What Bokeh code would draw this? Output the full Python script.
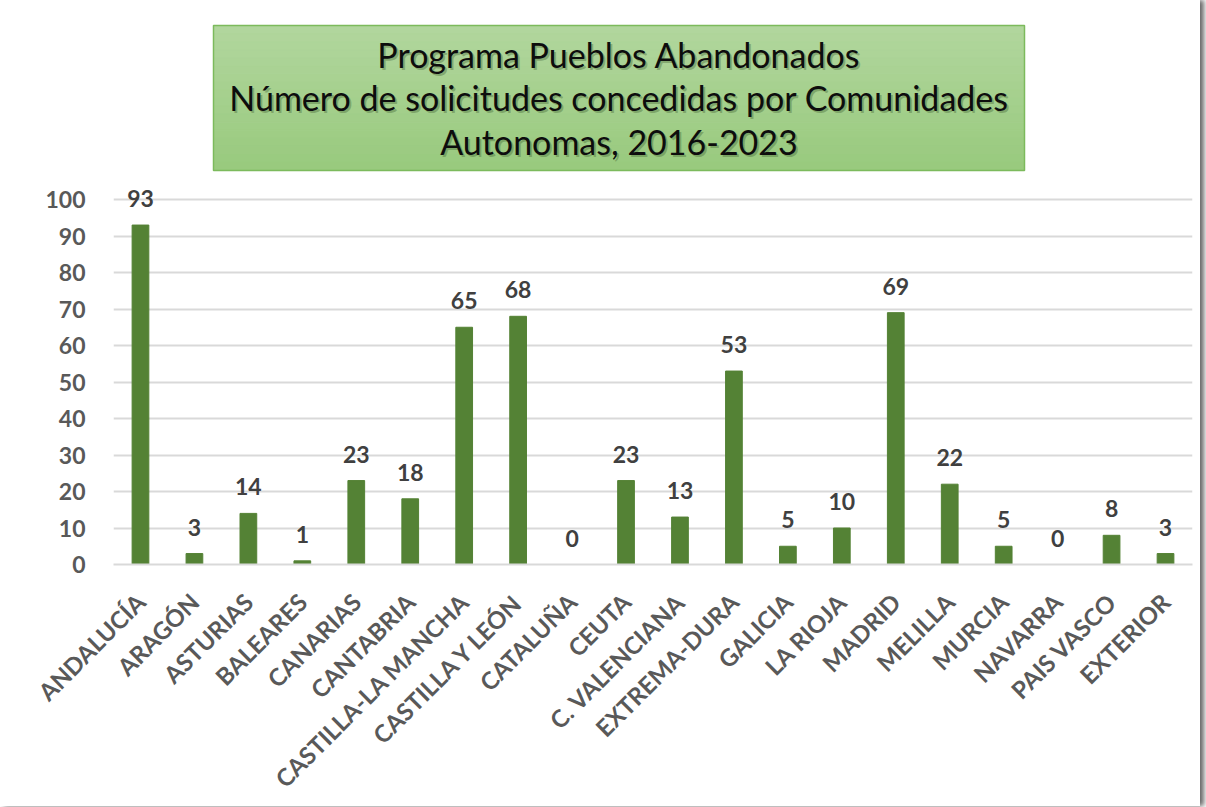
from bokeh.plotting import figure
from bokeh.models import ColumnDataSource, LabelSet, FixedTicker, FactorRange, Range1d
from bokeh.core.properties import value
from bokeh.embed import file_html
from bokeh.resources import INLINE
import math

categories = ["ANDALUCÍA", "ARAGÓN", "ASTURIAS", "BALEARES", "CANARIAS", "CANTABRIA",
              "CASTILLA-LA MANCHA", "CASTILLA Y LEÓN", "CATALUÑA", "CEUTA", "C. VALENCIANA",
              "EXTREMA-DURA", "GALICIA", "LA RIOJA", "MADRID", "MELILLA", "MURCIA",
              "NAVARRA", "PAIS VASCO", "EXTERIOR"]
values = [93, 3, 14, 1, 23, 18, 65, 68, 0, 23, 13, 53, 5, 10, 69, 22, 5, 0, 8, 3]
y_ticks = [0, 10, 20, 30, 40, 50, 60, 70, 80, 90, 100]
title_text = "Programa Pueblos Abandonados\nNúmero de solicitudes concedidas por Comunidades\nAutonomas, 2016-2023"

FONT = "Lato"

# layout constants (page pixels)
W, H = 1200, 806
FRAME_TOP, FRAME_BOTTOM, Y100 = 10, 564, 199
FRAME_LEFT, FRAME_RIGHT = 113, 1192
s = (FRAME_BOTTOM - Y100) / 100.0            # px per data unit
y_end = (FRAME_BOTTOM - FRAME_TOP) / s
ux = (FRAME_RIGHT - FRAME_LEFT) / len(categories)  # px per category


def ydata(py):
    return (FRAME_BOTTOM - py) / s


def xdata(px):
    return (px - FRAME_LEFT) / ux


src = ColumnDataSource(dict(cat=categories, val=values, lbl=[str(v) for v in values]))

p = figure(x_range=FactorRange(*categories), y_range=Range1d(0, y_end),
           width=W, height=H, output_backend="svg", toolbar_location=None,
           min_border_left=FRAME_LEFT, min_border_right=W - FRAME_RIGHT,
           min_border_top=FRAME_TOP, min_border_bottom=150)
p.outline_line_color = None
p.background_fill_color = "white"
p.border_fill_color = "white"

# --- title box (decoration drawn inside the frame, above the 100 gridline) ---
box_l, box_r, box_t, box_b = xdata(213), xdata(1024), ydata(25), ydata(170)
n_strips = 18
c0 = (0xb1, 0xd6, 0x9d)
c1 = (0x99, 0xca, 0x7e)
sl, sr, sb, st, sc = [], [], [], [], []
for i in range(n_strips):
    f = i / (n_strips - 1)
    col = "#%02x%02x%02x" % tuple(int(round(c0[k] + (c1[k] - c0[k]) * f)) for k in range(3))
    top = box_t - (box_t - box_b) * i / n_strips
    bot = box_t - (box_t - box_b) * (i + 1) / n_strips
    sl.append(box_l); sr.append(box_r); st.append(top); sb.append(bot); sc.append(col)
p.quad(left=sl, right=sr, top=st, bottom=sb, fill_color=sc, line_color=sc, line_width=1)
p.quad(left=[box_l], right=[box_r], top=[box_t], bottom=[box_b], fill_color=None,
       line_color="#7cba5c", line_width=1.5)
tx, ty = (box_l + box_r) / 2, (box_t + box_b) / 2
p.text(x=[tx], y=[ty], text=[title_text], text_align="center", text_baseline="middle",
       text_font=value(FONT), text_font_size="34px", text_color="#3a5a2a", text_alpha=0.35,
       text_line_height=1.06, x_offset=2, y_offset=2)
p.text(x=[tx], y=[ty], text=[title_text], text_align="center", text_baseline="middle",
       text_font=value(FONT), text_font_size="34px", text_color="#0d0d0d",
       text_line_height=1.06)

# --- bars ---
p.vbar(x="cat", top="val", width=0.31, source=src, fill_color="#548235", line_color="#548235")

labels = LabelSet(x="cat", y="val", text="lbl", source=src, text_align="center",
                  text_baseline="alphabetic", y_offset=18, text_font=value(FONT),
                  text_font_style="bold", text_font_size="23px", text_color="#404040")
p.add_layout(labels)

p.yaxis.ticker = FixedTicker(ticks=y_ticks)
p.yaxis.axis_line_color = None
p.yaxis.major_tick_line_color = None
p.yaxis.minor_tick_line_color = None
p.yaxis.major_tick_out = 0
p.yaxis.major_label_text_font = FONT
p.yaxis.major_label_text_font_style = "bold"
p.yaxis.major_label_text_font_size = "23px"
p.yaxis.major_label_text_color = "#595959"
p.yaxis.major_label_standoff = 28

p.xaxis.axis_line_color = "#d9d9d9"
p.xaxis.axis_line_width = 2
p.xaxis.major_tick_line_color = None
p.xaxis.minor_tick_line_color = None
p.xaxis.major_tick_out = 0
p.xaxis.major_label_orientation = math.pi / 4
p.xaxis.major_label_text_font = FONT
p.xaxis.major_label_text_font_style = "bold"
p.xaxis.major_label_text_font_size = "24px"
p.xaxis.major_label_text_color = "#595959"
p.xaxis.major_label_standoff = 33

p.xgrid.grid_line_color = None
p.ygrid.grid_line_color = "#d9d9d9"
p.ygrid.grid_line_width = 2

p.styles = {"box-shadow": "4px 0px 5px rgba(0,0,0,0.6)"}

open("out.html", "w").write(file_html(p, INLINE))
